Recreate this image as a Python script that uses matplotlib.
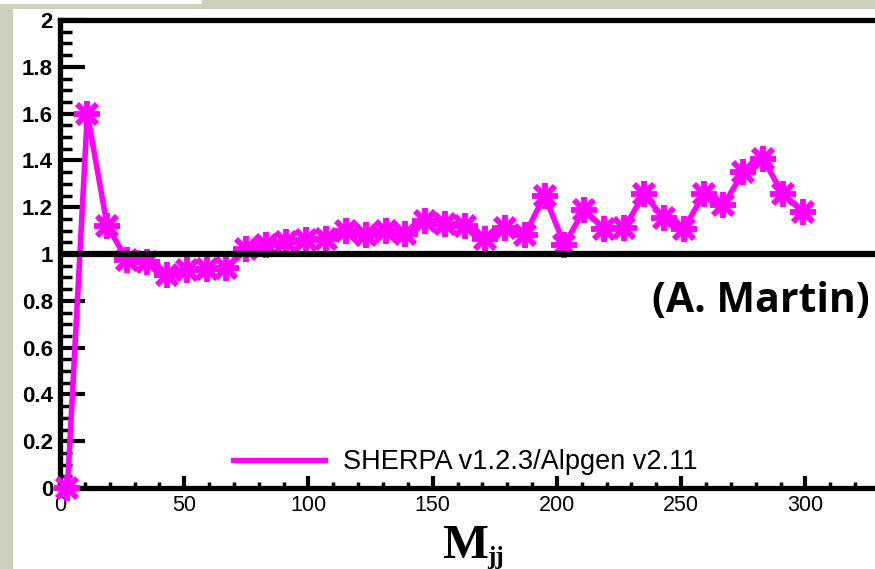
import numpy as np
import matplotlib
matplotlib.use("Agg")
import matplotlib.pyplot as plt
from matplotlib.lines import Line2D
from matplotlib.patches import Rectangle
from matplotlib.ticker import MultipleLocator

# ratio vs dijet mass, 8 GeV bins
mjj = np.arange(3, 300, 8)
ratio = [0.0, 1.60, 1.12, 0.975, 0.965, 0.91, 0.93, 0.935, 0.94, 1.02,
         1.04, 1.05, 1.06, 1.065, 1.10, 1.08, 1.10, 1.085, 1.14, 1.13,
         1.12, 1.065, 1.11, 1.08, 1.25, 1.04, 1.19, 1.105, 1.11, 1.255,
         1.155, 1.105, 1.255, 1.21, 1.35, 1.405, 1.255, 1.18]
series_label = "SHERPA v1.2.3/Alpgen v2.11"
credit = "(A. Martin)"

W, H = 875, 569
fig = plt.figure(figsize=(W / 100, H / 100), dpi=100)
fig.patch.set_facecolor("#cdd1bb")
fig.patches.append(Rectangle((13 / W, 0), 1, (H - 9) / H, transform=fig.transFigure,
                             facecolor="white", edgecolor="none", zorder=-2))
fig.patches.append(Rectangle((0, 1 - 4 / H), 202 / W, 4 / H, transform=fig.transFigure,
                             facecolor="white", edgecolor="none", zorder=-2))

ax = fig.add_axes([60 / W, (H - 488) / H, (W - 60) / W, (488 - 20) / H])
ax.set_zorder(2)
ax.set_facecolor("white")

mag = "#ff00ff"
ax.plot(mjj, ratio, color=mag, lw=4, zorder=3, clip_on=False)
# asterisk markers: an x and a + stacked
ax.plot(mjj, ratio, ls="none", marker="x", ms=15, mew=4.2, mec=mag, zorder=3, clip_on=False)
ax.plot(mjj, ratio, ls="none", marker="+", ms=19, mew=4.2, mec=mag, zorder=3, clip_on=False)
ax.axhline(1.0, color="black", lw=4.5, zorder=4)

ax.set_xlim(0, 328)
ax.set_ylim(0, 2)

for s in ["left", "top", "bottom"]:
    ax.spines[s].set_linewidth(3.8)
ax.spines["right"].set_visible(False)

ax.xaxis.set_major_locator(MultipleLocator(50))
ax.xaxis.set_minor_locator(MultipleLocator(10))
ax.yaxis.set_major_locator(MultipleLocator(0.2))
ax.yaxis.set_minor_locator(MultipleLocator(0.05))
ax.tick_params(axis="y", which="major", direction="in", length=18, width=3, pad=5)
ax.tick_params(axis="y", which="minor", direction="in", length=8.5, width=2.5)
ax.tick_params(axis="x", which="major", direction="in", length=9, width=3, pad=5)
ax.tick_params(axis="x", which="minor", direction="in", length=4, width=2.5)
ax.tick_params(top=False, right=False, which="both")

ax.set_yticks(np.arange(0, 2.01, 0.2))
ax.set_yticklabels(["0", "0.2", "0.4", "0.6", "0.8", "1", "1.2", "1.4", "1.6", "1.8", "2"],
                   fontsize=16, fontweight="bold", family="Liberation Sans")
for lab in ax.get_xticklabels():
    lab.set_fontsize(15.5)
    lab.set_family("Liberation Sans")

handle = Line2D([], [], color=mag, lw=3.8)
ax.legend([handle], [series_label], loc="center left", frameon=False,
          bbox_to_anchor=(233 / W, 1 - 462 / H), bbox_transform=fig.transFigure,
          borderpad=0, borderaxespad=0, handlelength=3.4, handletextpad=0.65,
          prop={"family": "Liberation Sans", "size": 19.5})

fig.text(870 / W, 1 - 301 / H, credit, ha="right", va="center",
         family="Open Sans", fontweight="bold", fontsize=29.5)

# axis title: bold serif M with subscript jj
fig.text(442 / W, 1 - 558 / H, "M", ha="left", va="baseline",
         family="Liberation Serif", fontweight="bold", fontsize=35)
fig.text(487 / W, 1 - 564 / H, "jj", ha="left", va="baseline",
         family="Liberation Serif", fontweight="bold", fontsize=18)

fig.savefig("out.png", dpi=100, facecolor=fig.get_facecolor())
